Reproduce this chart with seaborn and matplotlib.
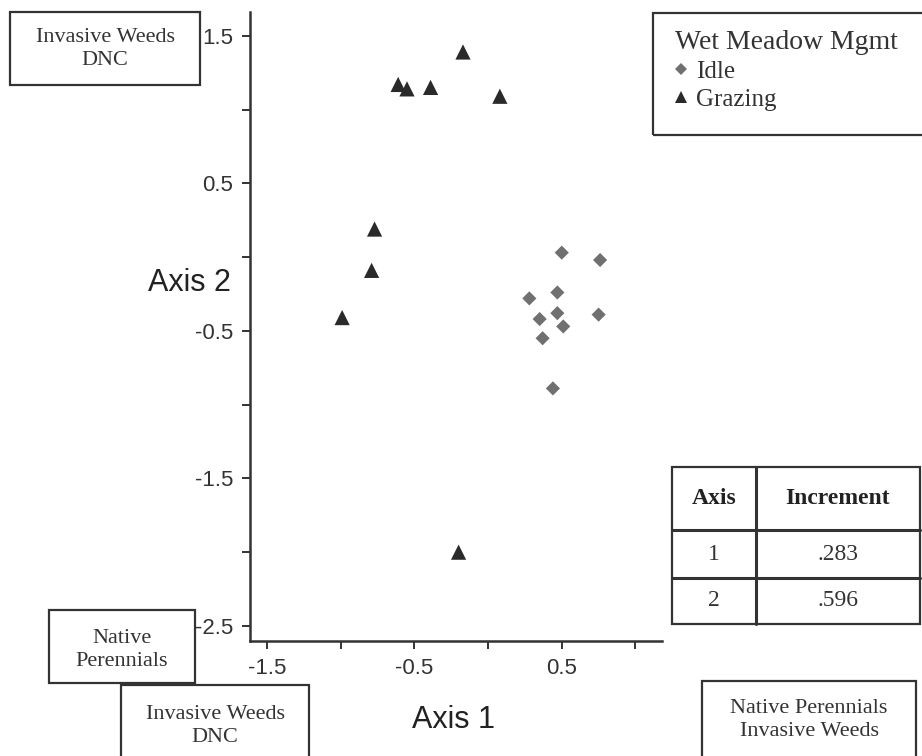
import pandas as pd
import matplotlib.pyplot as plt
from matplotlib.patches import Rectangle
from matplotlib.lines import Line2D
import seaborn as sns

# NMS scores
idle_ax1 = [0.50, 0.76, 0.28, 0.47, 0.35, 0.47, 0.51, 0.75, 0.37, 0.44]
idle_ax2 = [0.03, -0.02, -0.28, -0.24, -0.42, -0.38, -0.47, -0.39, -0.55, -0.89]
graz_ax1 = [-0.17, -0.61, -0.55, -0.39, 0.08, -0.77, -0.79, -0.99, -0.20]
graz_ax2 = [1.39, 1.17, 1.14, 1.15, 1.09, 0.19, -0.09, -0.41, -2.00]

x_ticks = [-1.5, -1.0, -0.5, 0.0, 0.5, 1.0]
x_ticklabels = ['-1.5', '', '-0.5', '', '0.5', '']
y_ticks = [1.5, 1.0, 0.5, 0.0, -0.5, -1.0, -1.5, -2.0, -2.5]
y_ticklabels = ['1.5', '', '0.5', '', '-0.5', '', '-1.5', '', '-2.5']

table_header = ['Axis', 'Increment']
table_axis = ['1', '2']
table_incr = ['.283', '.596']

corner_labels = {
    'top_left': 'Invasive Weeds\nDNC',
    'mid_left': 'Native\nPerennials',
    'bottom_left': 'Invasive Weeds\nDNC',
    'bottom_right': 'Native Perennials\nInvasive Weeds',
}

df = pd.DataFrame({
    'axis1': idle_ax1 + graz_ax1,
    'axis2': idle_ax2 + graz_ax2,
    'mgmt': ['Idle'] * len(idle_ax1) + ['Grazing'] * len(graz_ax1),
})

sns.set_style('white')
plt.rcParams['font.family'] = ['Liberation Sans', 'DejaVu Sans']
SERIF = ['Liberation Serif', 'DejaVu Serif']

W, H = 922, 756
fig = plt.figure(figsize=(W / 100, H / 100), dpi=100)


def fbox(x0, y0, x1, y1):
    # pixel box (from top-left) -> figure fraction rect
    return (x0 / W, 1 - y1 / H), (x1 - x0) / W, (y1 - y0) / H


def fpt(x, y):
    return x / W, 1 - y / H


(ax_x, ax_y), ax_w, ax_h = fbox(250, 12, 662, 641)
ax = fig.add_axes([ax_x, ax_y, ax_w, ax_h])

sns.scatterplot(data=df, x='axis1', y='axis2', hue='mgmt', style='mgmt', size='mgmt',
                palette={'Idle': '#707070', 'Grazing': '#2a2a2a'},
                markers={'Idle': 'D', 'Grazing': '^'},
                sizes={'Idle': 52, 'Grazing': 120},
                linewidth=0, ax=ax)

ax.set_xlim(-1.615, 1.18)
ax.set_ylim(-2.602, 1.661)
ax.set_xticks(x_ticks)
ax.set_xticklabels(x_ticklabels)
ax.set_yticks(y_ticks)
ax.set_yticklabels(y_ticklabels)
ax.tick_params(axis='both', direction='out', length=6, width=1.4, color='#333333',
               labelsize=16, labelcolor='#333333', pad=6, left=True, bottom=True)
for side in ['top', 'right']:
    ax.spines[side].set_visible(False)
for side in ['left', 'bottom']:
    ax.spines[side].set_linewidth(1.8)
    ax.spines[side].set_color('#333333')

ax.set_xlabel('Axis 1', fontsize=22, color='#222222')
ax.xaxis.set_label_coords(0.493, -0.126)
ax.xaxis.label.set_va('center')
ax.set_ylabel('Axis 2', fontsize=22, color='#222222', rotation=0, ha='center', va='center')
ax.yaxis.set_label_coords(-0.146, 0.569)

# legend, drawn in its own frame at the top right
handles, labels = ax.get_legend_handles_labels()
ax.get_legend().remove()
leg = ax.legend(handles, labels, title='Wet Meadow Mgmt', loc='upper left',
                bbox_to_anchor=fpt(675, 30), bbox_transform=fig.transFigure,
                frameon=False, alignment='left', markerscale=0.85,
                handlelength=0.5, handletextpad=0.35, borderpad=0, borderaxespad=0,
                labelspacing=0.22,
                prop={'family': SERIF, 'size': 18},
                title_fontproperties={'family': SERIF, 'size': 20})
for t in leg.get_texts():
    t.set_color('#333333')
leg.get_title().set_color('#333333')


def box(x0, y0, x1, y1, text=None, size=16, cy=None):
    xy, w, h = fbox(x0, y0, x1, y1)
    fig.add_artist(Rectangle(xy, w, h, transform=fig.transFigure, facecolor='white',
                             edgecolor='#333333', linewidth=1.6, zorder=5))
    if text:
        if cy is None:
            cy = (y0 + y1) / 2
        fig.text(*fpt((x0 + x1) / 2, cy), text, ha='center', va='center', family=SERIF,
                 fontsize=size, color='#333333', linespacing=1.3, zorder=6)


legend_frame = fbox(653, 13, 935, 135)
fig.add_artist(Rectangle(legend_frame[0], legend_frame[1], legend_frame[2],
                         transform=fig.transFigure, facecolor='none',
                         edgecolor='#333333', linewidth=1.6, zorder=5))

box(10, 12, 200, 85, corner_labels['top_left'], cy=49)
box(49, 610, 195, 683, corner_labels['mid_left'], cy=650)
box(121, 685, 309, 770, corner_labels['bottom_left'], cy=726)
box(702, 681, 916, 770, corner_labels['bottom_right'], cy=720)

# increment table
tx = [672, 756, 920]
ty = [467, 530, 578, 624]
box(tx[0], ty[0], tx[2], ty[3])
for yy in ty[1:3]:
    fig.add_artist(Line2D([tx[0] / W, tx[2] / W], [1 - yy / H] * 2, transform=fig.transFigure,
                          color='#333333', linewidth=2.2, zorder=7))
fig.add_artist(Line2D([tx[1] / W] * 2, [1 - ty[0] / H, 1 - ty[3] / H], transform=fig.transFigure,
                      color='#333333', linewidth=2.2, zorder=7))
for j, head in enumerate(table_header):
    fig.text(*fpt((tx[j] + tx[j + 1]) / 2, (ty[0] + ty[1]) / 2), head, ha='center', va='center',
             family=SERIF, fontsize=17, fontweight='bold', color='#222222', zorder=8)
for i in range(len(table_axis)):
    cy = (ty[i + 1] + ty[i + 2]) / 2
    fig.text(*fpt((tx[0] + tx[1]) / 2, cy), table_axis[i], ha='center', va='center',
             family=SERIF, fontsize=17, color='#333333', zorder=8)
    fig.text(*fpt((tx[1] + tx[2]) / 2, cy), table_incr[i], ha='center', va='center',
             family=SERIF, fontsize=17, color='#333333', zorder=8)

fig.savefig('out.png', dpi=100)
